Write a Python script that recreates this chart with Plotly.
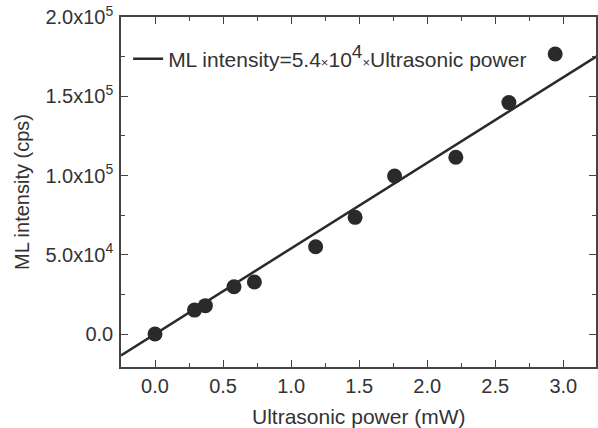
import plotly.graph_objects as go

power_mw = [0.0, 0.29, 0.37, 0.58, 0.73, 1.18, 1.47, 1.76, 2.21, 2.60, 2.94]
ml_cps = [0, 15100, 17900, 29800, 32800, 55100, 73600, 99700, 111500, 146000, 176700]

fit_slope = 5.4e4
fit_x = [-0.25, 3.25]
fit_y = [fit_slope * v for v in fit_x]

x_ticks = [0.0, 0.5, 1.0, 1.5, 2.0, 2.5, 3.0]
x_ticklabels = ["0.0", "0.5", "1.0", "1.5", "2.0", "2.5", "3.0"]
y_ticks = [0, 50000, 100000, 150000, 200000]
y_ticklabels = ["0.0", "5.0x10<sup>4</sup>", "1.0x10<sup>5</sup>", "1.5x10<sup>5</sup>", "2.0x10<sup>5</sup>"]

x_title = "Ultrasonic power (mW)"
y_title = "ML intensity (cps)"
legend_label = ("ML intensity=5.4<span style='font-size:13px'>×</span>10"
                "<sup><span style='font-size:19px'>4</span></sup>"
                "<span style='font-size:13px'>×</span>Ultrasonic power")

ink = "#2a2a2a"
txt = "#333333"
font = "Liberation Sans, Arial, sans-serif"

fig = go.Figure()
fig.add_trace(go.Scatter(
    x=fit_x, y=fit_y, mode="lines", name=legend_label,
    line=dict(color=ink, width=2.5), showlegend=True,
))
fig.add_trace(go.Scatter(
    x=power_mw, y=ml_cps, mode="markers", showlegend=False,
    marker=dict(color=ink, size=15, line=dict(width=0)),
))

axis_common = dict(
    showgrid=False, zeroline=False, showline=True, linecolor="#444", linewidth=1.5,
    mirror="ticks", ticks="inside", ticklen=7, tickwidth=1.3, tickcolor="#444",
    tickfont=dict(family=font, size=20, color=txt), automargin=False,
)

fig.update_xaxes(
    range=[-0.25, 3.24], tickvals=x_ticks, ticktext=x_ticklabels,
    minor=dict(ticks="inside", ticklen=4, tickwidth=1.2, tickcolor="#444", dtick=0.25, tick0=0),
    **axis_common,
)
fig.update_yaxes(
    range=[-20800, 200000], tickvals=y_ticks, ticktext=y_ticklabels,
    title=dict(text=y_title, font=dict(family=font, size=20, color=txt), standoff=10),
    minor=dict(ticks="inside", ticklen=4, tickwidth=1.2, tickcolor="#444", dtick=25000, tick0=0),
    ticklabelstandoff=2,
    **axis_common,
)

fig.add_annotation(
    text=x_title, xref="paper", yref="paper", x=0.5, y=-0.14,
    xanchor="center", yanchor="middle", showarrow=False,
    font=dict(family=font, size=21, color=txt),
)

fig.update_layout(
    width=598, height=428,
    margin=dict(l=121, r=2, t=17, b=61),
    paper_bgcolor="white", plot_bgcolor="white",
    font=dict(family=font, size=20, color=txt),
    legend=dict(
        x=0.015, y=0.88, xanchor="left", yanchor="middle",
        bgcolor="rgba(0,0,0,0)", borderwidth=0, itemwidth=30,
        font=dict(family=font, size=21, color=txt),
        tracegroupgap=0,
    ),
)

fig.write_html("out.html")
